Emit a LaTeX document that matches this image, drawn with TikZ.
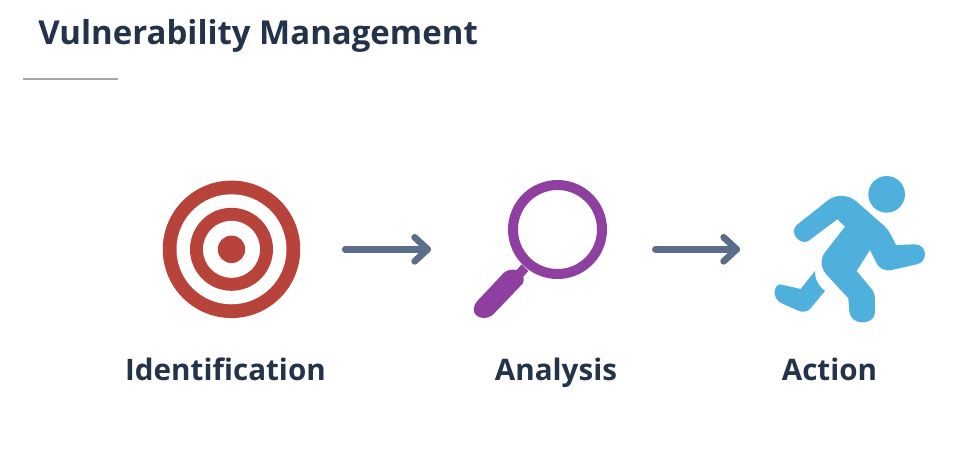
\documentclass[tikz,border=0pt]{standalone}
\usepackage{fontspec}
\setmainfont{Open Sans}
\usetikzlibrary{calc}
\definecolor{inkdark}{HTML}{22334A}
\definecolor{targetred}{HTML}{B8433A}
\definecolor{lenspurple}{HTML}{8E3F9F}
\definecolor{runnerblue}{HTML}{4FB0DE}
\definecolor{flowgray}{HTML}{5A6E8A}
\tikzset{
  ring/.style={circle, inner sep=0pt, outer sep=0pt, minimum size=#1*0.02cm},
  caption/.style={font=\bfseries\fontsize{16.85}{20}\selectfont, text=inkdark, inner sep=0pt, anchor=base},
  flow/.style={draw=flowgray, line width=3.8pt, line cap=round, line join=round},
  zoomed/.style={shift={#1}, x=0.02cm/3, y=-0.02cm/3}
}
\begin{document}
\begin{tikzpicture}[x=0.02cm, y=-0.02cm]
  \useasboundingbox (0,0) rectangle (968,461);

  \node[font=\bfseries\fontsize{18.77}{23}\selectfont, text=inkdark, inner sep=0pt, anchor=base west] (title) at (38,44) {Vulnerability Management};
  \coordinate (ruleleft) at (23,79);
  \coordinate (ruleright) at (118,79);
  \draw[gray!70, line width=0.7pt] (ruleleft) -- (ruleright);

  % target
  \node[ring=137.5, fill=targetred] (target) at (231.5,249.3) {};
  \node[ring=110, fill=white] (targetb) at (target) {};
  \node[ring=83, fill=targetred] (targetc) at (target) {};
  \node[ring=57, fill=white] (targetd) at (target) {};
  \node[ring=27.5, fill=targetred] (targete) at (target) {};

  % magnifier
  \node[ring=89, draw=lenspurple, line width=5.67pt] (lens) at (557.5,229.5) {};
  \begin{scope}[zoomed={(460,165)}]
    \fill[lenspurple] (185,298) -- (205,318) -- (190,335)
      .. controls (192,342) and (192,350) .. (188,356)
      -- (100,448) .. controls (80,465) and (50,462) .. (42,440)
      .. controls (40,425) and (46,414) .. (52,408)
      -- (130,325) .. controls (140,315) and (155,312) .. (170,315) -- cycle;
  \end{scope}

  % runner
  \begin{scope}[zoomed={(760,165)}]
    \fill[runnerblue] (380,88) circle (55);
    \fill[runnerblue] (110,180) -- (205,105)
      .. controls (225,90) and (262,85) .. (290,110)
      -- (375,185) .. controls (390,200) and (398,220) .. (408,240)
      -- (465,238) .. controls (503,238) and (505,292) .. (470,298)
      -- (395,315) .. controls (370,320) and (358,308) .. (350,295)
      -- (330,255) -- (290,318) -- (335,372)
      .. controls (342,382) and (345,390) .. (345,400)
      -- (345,445) .. controls (340,482) and (272,482) .. (268,440)
      -- (265,400) -- (205,335)
      .. controls (180,310) and (180,282) .. (195,262)
      -- (255,185) -- (232,163) -- (145,228)
      .. controls (122,242) and (85,205) .. (110,180) -- cycle;
    \fill[runnerblue] (60,358) -- (122,372) -- (165,318)
      .. controls (165,345) and (175,362) .. (195,378)
      -- (150,432) .. controls (140,442) and (125,442) .. (115,437)
      -- (65,415) .. controls (35,400) and (40,362) .. (60,358) -- cycle;
  \end{scope}

  % invisible boxes for the arrows
  \node[inner sep=0pt, minimum width=150*0.02cm, minimum height=146*0.02cm] (runner) at (850,249.3) {};
  \node[inner sep=0pt, minimum width=133*0.02cm, minimum height=140*0.02cm] (lensbox) at (540.5,249.3) {};

  % arrows
  \coordinate (flowa) at ($(target.east)+(45,0)$);
  \coordinate (flowb) at ($(lensbox.west)+(-46,0)$);
  \coordinate (flowc) at ($(lensbox.east)+(48,0)$);
  \coordinate (flowd) at ($(runner.west)+(-38,0)$);
  \draw[flow] (flowa) -- (flowb);
  \draw[flow] ($(flowb)+(-13,-12)$) -- (flowb) -- ($(flowb)+(-13,12)$);
  \draw[flow] (flowc) -- (flowd);
  \draw[flow] ($(flowd)+(-13,-12)$) -- (flowd) -- ($(flowd)+(-13,12)$);

  % labels
  \node[caption] (identification) at (225.5,380) {Identification};
  \node[caption] (analysis) at (556,380) {Analysis};
  \node[caption] (action) at (829.5,380) {Action};
\end{tikzpicture}
\end{document}
